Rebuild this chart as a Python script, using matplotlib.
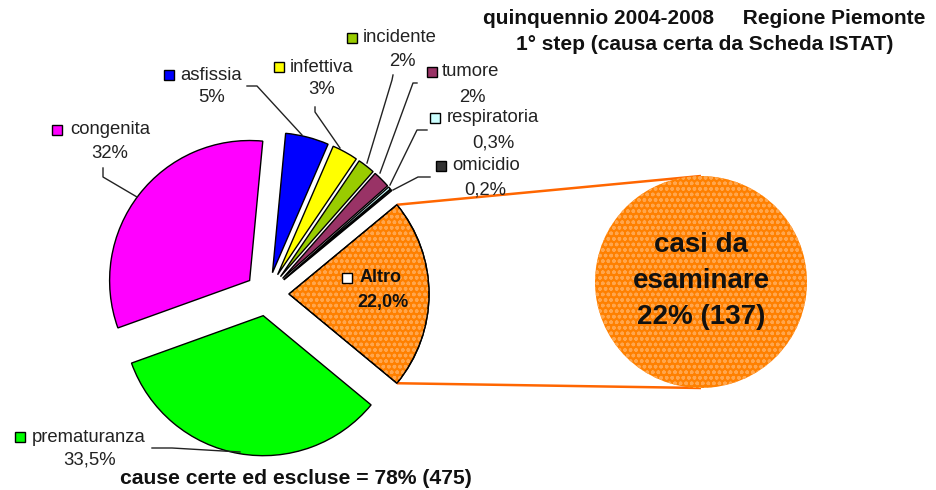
import matplotlib
matplotlib.use("Agg")
import matplotlib.pyplot as plt
from matplotlib.patches import Wedge, Circle, Rectangle
import math

plt.rcParams['font.family'] = ['Liberation Sans', 'DejaVu Sans']
plt.rcParams['hatch.linewidth'] = 1.0

# ---- data ----
categories = ["Altro", "omicidio", "respiratoria", "tumore", "incidente",
              "infettiva", "asfissia", "congenita", "prematuranza"]
values = [22.0, 0.2, 0.3, 2, 2, 3, 5, 32, 33.5]
pct_labels = ["22,0%", "0,2%", "0,3%", "2%", "2%", "3%", "5%", "32%", "33,5%"]
colors = ["#FF8000", "#333333", "#CCFFFF", "#993366", "#99CC00",
          "#FFFF00", "#0000FF", "#FF00FF", "#00FF00"]
other_count = 137
certain_count = 475
other_pct = 22
certain_pct = 78

W, H = 937, 490
fig = plt.figure(figsize=(W / 100, H / 100), dpi=100)
ax = fig.add_axes([0, 0, 1, 1])

def P(x, y):
    return (x, H - y)

center = P(267, 294)
radius = 140
expl = 22
start = -values[0] / 100 * 360 / 2

wedges, _ = ax.pie(values, explode=[expl] * len(values), startangle=start,
                   counterclock=True, center=center, radius=radius,
                   colors=colors,
                   wedgeprops=dict(edgecolor="black", linewidth=1.0))
ax.set_xlim(0, W)
ax.set_ylim(0, H)
ax.set_aspect("equal")
ax.axis("off")

HATCH_COL = "#FFA64D"
# hatch overlay for "Altro" slice
w0 = wedges[0]
ov = Wedge(w0.center, w0.r, w0.theta1, w0.theta2, facecolor="none",
           edgecolor=HATCH_COL, hatch="ooo", linewidth=0, zorder=w0.get_zorder() + 0.1)
ax.add_patch(ov)
w0b = Wedge(w0.center, w0.r, w0.theta1, w0.theta2, facecolor="none",
            edgecolor="black", linewidth=1.0, zorder=w0.get_zorder() + 0.2)
ax.add_patch(w0b)

# connector lines and secondary circle
cx0, cy0 = w0.center
t1, t2 = math.radians(w0.theta1), math.radians(w0.theta2)
c_center = P(701, 282)
c_r = 106
ax.plot([cx0 + radius * math.cos(t2), c_center[0]],
        [cy0 + radius * math.sin(t2), c_center[1] + c_r],
        color="#FF6600", lw=1.8, zorder=1, solid_capstyle="butt")
ax.plot([cx0 + radius * math.cos(t1), c_center[0]],
        [cy0 + radius * math.sin(t1), c_center[1] - c_r],
        color="#FF6600", lw=1.8, zorder=1, solid_capstyle="butt")
circ = Circle(c_center, c_r, facecolor="#FF8000", edgecolor="none", zorder=3)
ax.add_patch(circ)
circ2 = Circle(c_center, c_r, facecolor="none", edgecolor=HATCH_COL,
               hatch="ooo", linewidth=0, zorder=3.1)
ax.add_patch(circ2)
ax.text(c_center[0], c_center[1] + 1,
        "casi da\nesaminare\n%d%% (%d)" % (other_pct, other_count),
        ha="center", va="center", fontsize=20, fontweight="bold",
        linespacing=1.5, zorder=5, color="#111111")

# labels: (square center x, y, text left x, pct center x, pct y, leader pts)
label_layout = {
    "asfissia": (169, 75, 180, 212, 98, [(247, 86), (257, 86), (302, 135)]),
    "infettiva": (279, 67, 290, 322, 90, [(315, 107), (315, 112), (340, 148)]),
    "incidente": (352, 38, 363, 402, 62, [(393, 75), (392, 80), (367, 163)]),
    "tumore": (432, 72, 442, 472, 97, [(417, 83), (413, 83), (380, 173)]),
    "respiratoria": (435, 118, 447, 493, 143, [(427, 130), (417, 130), (390, 185)]),
    "omicidio": (441, 166, 452, 485, 190, [(430, 177), (418, 177), (393, 190)]),
    "congenita": (57, 130, 70, 110, 153, [(103, 168), (103, 177), (137, 197)]),
    "prematuranza": (20, 437, 32, 90, 460, [(152, 448), (172, 448), (240, 452)]),
}
for i, cat in enumerate(categories):
    if cat not in label_layout:
        continue
    sx, sy, tx, px, py, pts = label_layout[cat]
    x0, y0 = P(sx, sy)
    ax.add_patch(Rectangle((x0 - 5, y0 - 5), 10, 10, facecolor=colors[i],
                           edgecolor="black", linewidth=1.0, zorder=6))
    ax.text(*P(tx, sy), cat, ha="left", va="center", fontsize=13.3,
            color="#222222", zorder=6)
    ax.text(*P(px, py), pct_labels[i], ha="center", va="center", fontsize=13.3,
            color="#222222", zorder=6)
    xs = [p[0] for p in pts]
    ys = [H - p[1] for p in pts]
    ax.plot(xs, ys, color="#222222", lw=1.0, zorder=6)

# Altro label inside slice
x0, y0 = P(347, 278)
ax.add_patch(Rectangle((x0 - 5, y0 - 5), 10, 10, facecolor="white",
                       edgecolor="black", linewidth=1.0, zorder=6))
ax.text(*P(360, 278), categories[0], ha="left", va="center", fontsize=13,
        fontweight="bold", color="#111111", zorder=6)
ax.text(*P(383, 302), pct_labels[0], ha="center", va="center", fontsize=13,
        fontweight="bold", color="#111111", zorder=6)

# titles
ax.text(*P(704, 19), "quinquennio 2004-2008     Regione Piemonte",
        ha="center", va="center", fontsize=15, fontweight="bold", color="#111111")
ax.text(*P(705, 45), "1° step (causa certa da Scheda ISTAT)",
        ha="center", va="center", fontsize=15, fontweight="bold", color="#111111")
ax.text(*P(296, 479), "cause certe ed escluse = %d%% (%d)" % (certain_pct, certain_count),
        ha="center", va="center", fontsize=15.2, fontweight="bold", color="#111111")

fig.savefig("out.png", dpi=100)
